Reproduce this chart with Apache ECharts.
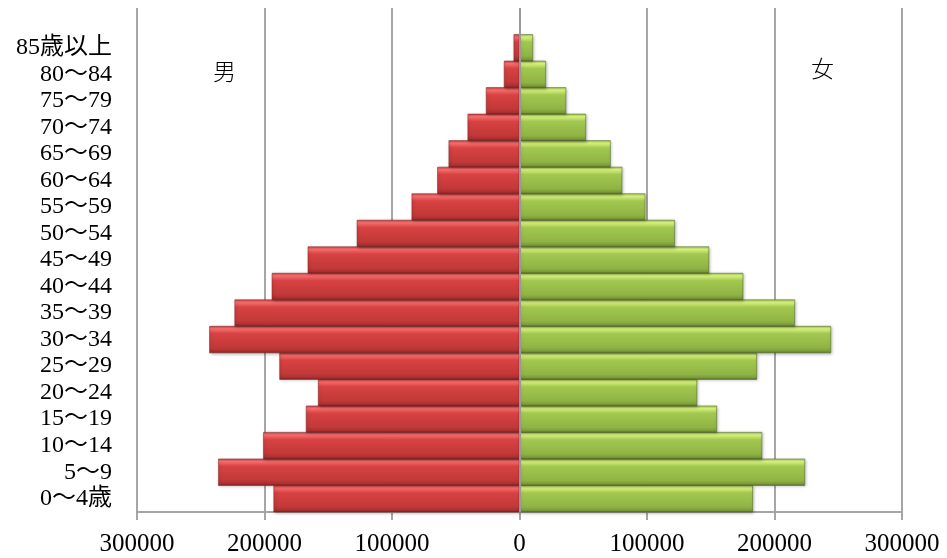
<!DOCTYPE html>
<html>
<head>
<meta charset="utf-8">
<script src="https://cdn.jsdelivr.net/npm/echarts@6/dist/echarts.min.js"></script>
<style>
  html, body { margin: 0; padding: 0; background: #ffffff; }
  #chart { width: 947px; height: 558px; }
</style>
</head>
<body>
<div id="chart"></div>
<script>
// Age groups, youngest at the bottom; the last slot is an empty row above 85+
const ageGroups = ['0～4歳', '5～9', '10～14', '15～19', '20～24', '25～29', '30～34', '35～39',
  '40～44', '45～49', '50～54', '55～59', '60～64', '65～69', '70～74', '75～79', '80～84', '85歳以上', ''];

// Population by age group
const male = [192900, 236300, 201000, 167500, 158000, 188300, 243300, 223500, 194300,
  166100, 127600, 84600, 64500, 55600, 40700, 26300, 12200, 4600];
const female = [183000, 223900, 190300, 154800, 139300, 186200, 244300, 216000, 175500,
  148700, 121800, 98700, 80600, 71500, 52100, 36600, 20700, 10500];

const axisTicks = [-300000, -200000, -100000, 0, 100000, 200000, 300000];

const FONT = "'Liberation Serif', 'Noto Sans CJK JP', serif";
const GRID_COLOR = '#a6a6a6';

function bevel(stops) {
  return new echarts.graphic.LinearGradient(0, 0, 0, 1,
    stops.map(([offset, color]) => ({ offset, color })));
}

const maleFill = bevel([[0, '#cc4040'], [0.1, '#f87070'], [0.28, '#d84242'], [0.8, '#c23838'], [0.93, '#a83030'], [1, '#702020']]);
const femaleFill = bevel([[0, '#9cc04c'], [0.1, '#daf480'], [0.28, '#a2c850'], [0.8, '#90b444'], [0.93, '#7c9a3a'], [1, '#506a26']]);

const chart = echarts.init(document.getElementById('chart'), null, { renderer: 'canvas' });

chart.setOption({
  animation: false,
  backgroundColor: '#ffffff',
  grid: { left: 137, right: 45, top: 8, bottom: 46, containLabel: false },
  xAxis: {
    type: 'value',
    min: axisTicks[0],
    max: axisTicks[axisTicks.length - 1],
    interval: 100000,
    axisLine: { show: true, onZero: false, lineStyle: { color: GRID_COLOR, width: 2 } },
    axisTick: { show: true, length: 8, lineStyle: { color: GRID_COLOR, width: 2 } },
    splitLine: { show: true, lineStyle: { color: GRID_COLOR, width: 2 } },
    axisLabel: {
      color: '#000000',
      fontFamily: FONT,
      fontSize: 25,
      margin: 20,
      formatter: v => String(Math.abs(v))
    }
  },
  yAxis: {
    type: 'category',
    data: ageGroups,
    axisLine: { show: false },
    axisTick: { show: false },
    splitLine: { show: false },
    axisLabel: {
      color: '#000000',
      fontFamily: FONT,
      fontSize: 24,
      margin: 25,
      align: 'right',
      interval: 0
    }
  },
  series: [
    {
      name: '男',
      type: 'bar',
      z: 3,
      data: male.map(v => -v),
      barGap: '-100%',
      barWidth: '102%',
      itemStyle: {
        color: maleFill,
        borderColor: '#7a2424',
        borderWidth: 0.5,
        shadowColor: 'rgba(0,0,0,0.3)',
        shadowBlur: 3,
        shadowOffsetX: 1,
        shadowOffsetY: 1
      },
      emphasis: { disabled: true },
      // centre line between the two halves, on top of the bars
      markLine: {
        silent: true,
        symbol: 'none',
        z: 6,
        label: { show: false },
        lineStyle: { color: '#999999', width: 2, type: 'solid' },
        data: [{ xAxis: 0 }]
      }
    },
    {
      name: '女',
      type: 'bar',
      z: 3,
      data: female,
      barGap: '-100%',
      barWidth: '102%',
      itemStyle: {
        color: femaleFill,
        borderColor: '#4e6826',
        borderWidth: 0.5,
        shadowColor: 'rgba(0,0,0,0.3)',
        shadowBlur: 3,
        shadowOffsetX: 1,
        shadowOffsetY: 1
      },
      emphasis: { disabled: true }
    }
  ],
  graphic: [
    {
      type: 'text', left: 213, top: 60,
      style: { text: '男', fontFamily: "'Noto Sans CJK JP', sans-serif", fontSize: 23, fontWeight: 300, fill: '#000000' }
    },
    {
      type: 'text', left: 811, top: 57,
      style: { text: '女', fontFamily: "'Noto Sans CJK JP', sans-serif", fontSize: 23, fontWeight: 300, fill: '#000000' }
    }
  ]
});
</script>
</body>
</html>
